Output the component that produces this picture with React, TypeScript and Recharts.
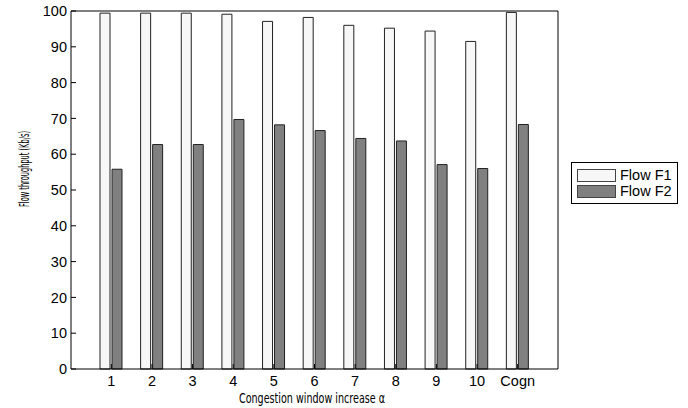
import React from "react";
import { BarChart, Bar, XAxis, YAxis, Legend, Label } from "recharts";

const categories = ["1", "2", "3", "4", "5", "6", "7", "8", "9", "10", "Cogn"];
const flowF1 = [99.4, 99.4, 99.4, 99.1, 97.1, 98.2, 96.0, 95.2, 94.4, 91.5, 99.6];
const flowF2 = [55.8, 62.7, 62.7, 69.7, 68.2, 66.6, 64.4, 63.7, 57.1, 56.0, 68.3];
const yTicks = [0, 10, 20, 30, 40, 50, 60, 70, 80, 90, 100];

const series = [
  { key: "f1", name: "Flow F1", fill: "#f7f7f7" },
  { key: "f2", name: "Flow F2", fill: "#808080" },
];

const data = categories.map((name, i) => ({ name, f1: flowF1[i], f2: flowF2[i] }));

const FONT = "'Liberation Sans', Arial, Helvetica, sans-serif";
const NARROW = "'Liberation Sans Narrow', 'DejaVu Sans Condensed', sans-serif";
const tickStyle = { fontFamily: FONT, fontSize: 14.5, fill: "#000" };

const renderLegend = () => (
  <div
    style={{
      position: "relative",
      width: 107,
      height: 42,
      border: "1px solid #000",
      boxSizing: "border-box",
      background: "#fff",
      fontFamily: FONT,
      fontSize: 14.5,
      color: "#000",
    }}
  >
    {series.map((s, i) => (
      <div key={s.key} style={{ position: "absolute", left: 5, top: 5 + i * 16, height: 14, display: "flex", alignItems: "center" }}>
        <div style={{ width: 39, height: 13, background: s.fill, border: "1px solid #444", boxSizing: "border-box" }} />
        <span style={{ marginLeft: 4, lineHeight: "14px" }}>{s.name}</span>
      </div>
    ))}
  </div>
);

export default function App() {
  return (
    <div style={{ position: "absolute", left: 0, top: 0, background: "#fff" }}>
      <BarChart
        width={688}
        height={408}
        data={data}
        margin={{ top: 10, right: 129, bottom: 0, left: 0 }}
        barSize={10}
        barGap={2}
      >
        <XAxis
          dataKey="name"
          height={39}
          padding={{ left: 20, right: 20 }}
          tickSize={-5}
          tickMargin={12}
          tick={tickStyle}
          axisLine={{ stroke: "#000" }}
          tickLine={{ stroke: "#000" }}
          interval={0}
        >
          <Label
            content={() => (
              <text x={312} y={403} textAnchor="middle" fontFamily={NARROW} fontSize={14} textLength={146} lengthAdjust="spacingAndGlyphs" fill="#000">
                Congestion window increase α
              </text>
            )}
          />
        </XAxis>
        <XAxis
          xAxisId="top"
          orientation="top"
          dataKey="name"
          height={1}
          padding={{ left: 20, right: 20 }}
          tickSize={-5}
          tick={false}
          axisLine={{ stroke: "#000" }}
          tickLine={{ stroke: "#000" }}
          interval={0}
        />
        <YAxis
          width={71}
          domain={[0, 100]}
          ticks={yTicks}
          tickSize={-5}
          tickMargin={9}
          tick={tickStyle}
          axisLine={{ stroke: "#000" }}
          tickLine={{ stroke: "#000" }}
          interval={0}
        >
          <Label
            content={() => (
              <text
                x={24}
                y={169}
                transform="rotate(-90 24 169)"
                textAnchor="middle"
                dominantBaseline="central"
                fontFamily={NARROW}
                fontSize={13.5}
                textLength={76}
                lengthAdjust="spacingAndGlyphs"
                fill="#000"
              >
                Flow throughput (Kb/s)
              </text>
            )}
          />
        </YAxis>
        <YAxis
          yAxisId="right"
          orientation="right"
          width={1}
          domain={[0, 100]}
          ticks={yTicks}
          tickSize={-5}
          tick={false}
          axisLine={{ stroke: "#000" }}
          tickLine={{ stroke: "#000" }}
          interval={0}
        />
        <Legend
          layout="horizontal"
          verticalAlign="middle"
          align="center"
          content={renderLegend}
          wrapperStyle={{ left: 571, top: 162, width: 107, height: 42 }}
        />
        {series.map((s) => (
          <Bar key={s.key} dataKey={s.key} name={s.name} fill={s.fill} stroke="#222" strokeWidth={1} isAnimationActive={false} />
        ))}
      </BarChart>
    </div>
  );
}
